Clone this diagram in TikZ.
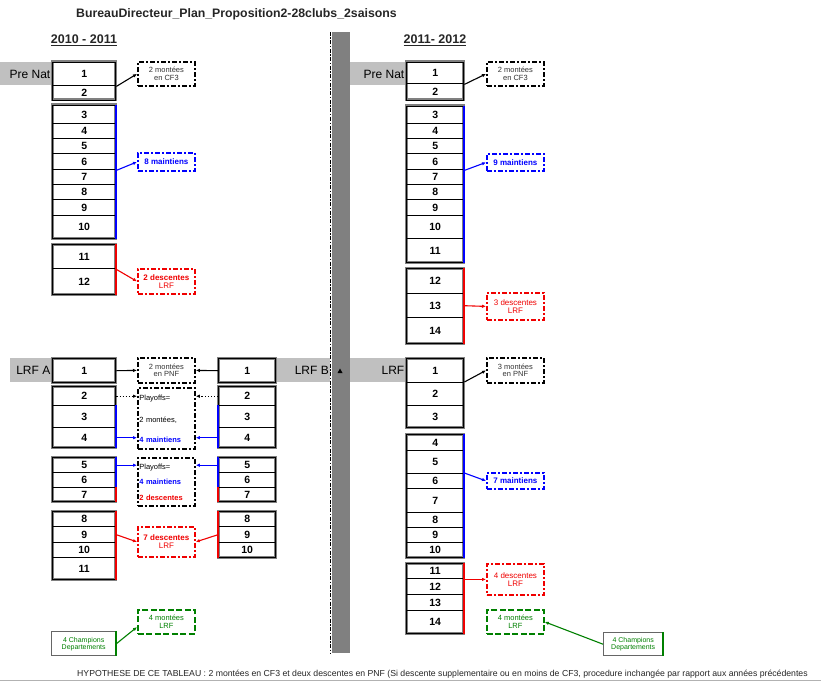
\documentclass[tikz,border=0pt]{standalone}
\usepackage{fontspec}
\setmainfont{Liberation Sans}
\usetikzlibrary{arrows.meta,calc}
\definecolor{bandgray}{HTML}{C0C0C0}
\definecolor{bargray}{HTML}{808080}
\definecolor{myblue}{HTML}{0000FF}
\definecolor{myred}{HTML}{F00000}
\definecolor{mygreen}{HTML}{008000}
\newcommand\myfs[1]{\fontsize{#1}{#1}\selectfont}
\newcommand\tbl[4]{\foreach \rn/\rt/\rb in {#4} {\node[cell, minimum width=#3pt, minimum height={(\rb-\rt)*1pt}] (#1\rn) at (#2,\rt) {\rn};}}
\begin{document}
\begin{tikzpicture}[x=1pt,y=-1pt,
  cell/.style={draw=black, line width=1.4pt, anchor=north west, inner sep=0pt, font=\bfseries\myfs{10.5}},
  grp/.style={draw=black!50, line width=3pt},
  bedge/.style={draw=myblue, line width=2pt},
  redge/.style={draw=myred, line width=2pt},
  gedge/.style={draw=mygreen, line width=2pt},
  lbl/.style={line width=1.8pt, dash pattern=on 5pt off 2pt on 2pt off 2pt, anchor=north west, minimum width=57pt, inner sep=1pt, align=center},
  glbl/.style={lbl, draw=mygreen, dash pattern=on 6pt off 2.5pt, text=mygreen, font=\myfs{7.5}},
  conn/.style={line width=1.1pt, -{Latex[length=4pt,width=3.5pt]}},
  band/.style={fill=bandgray},
  bandtxt/.style={anchor=east, font=\myfs{12}, inner sep=0pt},
  champ/.style={draw=black!60, line width=1.4pt, anchor=north west, inner sep=1pt, align=center, text=mygreen, font=\myfs{7}}
]
\useasboundingbox (0,0) rectangle (821,682);
\fill[white] (0,0) rectangle (821,682);

% title and headers
\node[anchor=west, inner sep=0pt, font=\bfseries\myfs{12.3}, text=black!85] (title) at (76,14) {BureauDirecteur\_Plan\_Proposition2-28clubs\_2saisons};
\node[font=\bfseries\myfs{12.5}, text=black!85] (hA) at (84,40) {\underline{2010 - 2011}};
\node[font=\bfseries\myfs{12.5}, text=black!85] (hB) at (435,40) {\underline{2011- 2012}};

% central bar
\fill[bargray] (332,32) rectangle (350,653);
\draw[line width=1.3pt, dash pattern=on 4pt off 1.5pt on 1.5pt off 1.5pt] (330.5,32) -- (330.5,653);

% bands
\fill[band] (0,62) rectangle (52,85);
\node[bandtxt] (tPNA) at (50.5,74) {Pre Nat};
\fill[band] (10,358) rectangle (52,382);
\node[bandtxt] (tLA) at (50.5,370) {LRF A};
\fill[band] (275,358) rectangle (330,382);
\node[bandtxt] (tLB) at (329,370) {LRF B};
\fill[band] (350,358) rectangle (406,382);
\node[bandtxt] (tLR) at (404.5,370) {LRF};
\fill[band] (350,62) rectangle (406,85);
\node[bandtxt] (tPNB) at (404.5,74) {Pre Nat};
\fill[black] (337.5,373) -- (342.5,373) -- (340,368.5) -- cycle;

% group backgrounds (gray outer frame)
\draw[grp] (52,62) rectangle (115,100);
\draw[grp] (52,105) rectangle (115,238);
\draw[grp] (52,244) rectangle (115,294);
\draw[grp] (52,358) rectangle (115,382);
\draw[grp] (52,386) rectangle (115,447);
\draw[grp] (52,457) rectangle (115,501);
\draw[grp] (52,511) rectangle (115,579);
\draw[grp] (218,358) rectangle (275,382);
\draw[grp] (218,386) rectangle (275,447);
\draw[grp] (218,457) rectangle (275,501);
\draw[grp] (218,511) rectangle (275,557);
\draw[grp] (406,62) rectangle (463,100);
\draw[grp] (406,106) rectangle (463,262);
\draw[grp] (406,268) rectangle (463,343);
\draw[grp] (406,358) rectangle (463,427);
\draw[grp] (406,434) rectangle (463,557);
\draw[grp] (406,563) rectangle (463,633);

% tables
\tbl{pA}{52}{63}{1/62/85, 2/85/100, 3/105/123, 4/123/138, 5/138/153, 6/153/169, 7/169/184, 8/184/199, 9/199/215, 10/215/238, 11/244/268, 12/268/294}
\tbl{a}{52}{63}{1/358/382, 2/386/405, 3/405/427, 4/427/447, 5/457/472, 6/472/487, 7/487/501, 8/511/526, 9/526/542, 10/542/557, 11/557/579}
\tbl{b}{218}{57}{1/358/382, 2/386/405, 3/405/427, 4/427/447, 5/457/472, 6/472/487, 7/487/501, 8/511/526, 9/526/542, 10/542/557}
\tbl{pB}{406}{57}{1/62/83, 2/83/100, 3/106/123, 4/123/138, 5/138/153, 6/153/169, 7/169/184, 8/184/199, 9/199/215, 10/215/238, 11/238/262, 12/268/293, 13/293/317, 14/317/343}
\tbl{r}{406}{57}{1/358/382, 2/382/405, 3/405/427, 4/434/450, 5/450/473, 6/473/488, 7/488/512, 8/512/527, 9/527/542, 10/542/557, 11/563/578, 12/578/594, 13/594/610, 14/610/633}

% coloured edges
\draw[bedge] (pA3.north east) -- (pA10.south east);
\draw[redge] (pA11.north east) -- (pA12.south east);
\draw[bedge] (a3.north east) -- (a4.south east);
\draw[bedge] (a5.north east) -- (a6.south east);
\draw[redge] (a7.north east) -- (a7.south east);
\draw[redge] (a8.north east) -- (a11.south east);
\draw[bedge] (b3.north west) -- (b4.south west);
\draw[bedge] (b5.north west) -- (b6.south west);
\draw[redge] (b7.north west) -- (b7.south west);
\draw[redge] (b8.north west) -- (b10.south west);
\draw[bedge] (pB3.north east) -- (pB11.south east);
\draw[redge] (pB12.north east) -- (pB14.south east);
\draw[bedge] (r4.north east) -- (r10.south east);
\draw[redge] (r11.north east) -- (r14.south east);

% label boxes, left season
\node[lbl, draw=black, minimum height=24pt, font=\myfs{7.5}, text=black!80] (cf3A) at (137,61) {2 montées\\en CF3};
\node[lbl, draw=myblue, minimum height=18pt, font=\bfseries\myfs{8}, text=myblue] (mA8) at (137,152) {8 maintiens};
\node[lbl, draw=myred, minimum height=25pt, font=\bfseries\myfs{8}, text=myred] (dA2) at (137,268) {2 descentes\\\mdseries LRF};
\node[lbl, draw=black, minimum height=25pt, font=\myfs{7.5}, text=black!80] (pnfA) at (137,357) {2 montées\\en PNF};
\node[lbl, draw=black, minimum height=61pt, text width=54pt, align=left, font=\myfs{7.5}] (po1) at (137,387) {Playoffs=\\[15pt]2 montées,\\[12pt]\textcolor{myblue}{\bfseries 4 maintiens}};
\node[lbl, draw=black, minimum height=48pt, text width=54pt, align=left, font=\myfs{7.5}] (po2) at (137,457) {Playoffs=\\[8pt]\textcolor{myblue}{\bfseries 4 maintiens}\\[8pt]\textcolor{myred}{\bfseries 2 descentes}};
\node[lbl, draw=myred, minimum height=30pt, font=\bfseries\myfs{8}, text=myred] (dA7) at (137,526) {7 descentes\\\mdseries LRF};
\node[glbl, minimum height=24pt] (mon4A) at (137,609) {4 montées\\LRF};
\node[champ, minimum width=64pt, minimum height=24pt] (champA) at (51,631) {4 Champions\\Departements};
\draw[gedge] (champA.north east) -- (champA.south east);

% label boxes, right season
\node[lbl, draw=black, minimum height=24pt, font=\myfs{7.5}, text=black!80] (cf3B) at (486,61) {2 montées\\en CF3};
\node[lbl, draw=myblue, minimum height=17pt, font=\bfseries\myfs{8}, text=myblue] (mB9) at (486,153) {9 maintiens};
\node[lbl, draw=myred, minimum height=27pt, font=\myfs{8}, text=myred] (dB3) at (486,292) {3 descentes\\LRF};
\node[lbl, draw=black, minimum height=25pt, font=\myfs{7.5}, text=black!80] (pnfB) at (486,357) {3 montées\\en PNF};
\node[lbl, draw=myblue, minimum height=16pt, font=\bfseries\myfs{8}, text=myblue] (mB7) at (486,472) {7 maintiens};
\node[lbl, draw=myred, minimum height=31pt, font=\myfs{8}, text=myred] (dB4) at (486,563) {4 descentes\\LRF};
\node[glbl, minimum height=24pt] (mon4B) at (486,609) {4 montées\\LRF};
\node[champ, minimum width=59pt, minimum height=23pt] (champB) at (603,632) {4 Champions\\Departements};
\draw[gedge] (champB.north east) -- (champB.south east);

% connectors, left season
\draw[conn] (pA1.south east) -- (cf3A.west);
\draw[conn, myblue] (pA6.south east) -- (mA8.west);
\draw[conn, myred] (pA11.south east) -- (dA2.west);
\draw[conn] (a1.east) -- (pnfA.west);
\draw[conn] (b1.west) -- (pnfA.east);
\draw[conn, dotted] (a2.east) -- (a2.east -| po1.west);
\draw[conn, dotted] (b2.west) -- (b2.west -| po1.east);
\draw[conn, myblue] (a4.east) -- (a4.east -| po1.west);
\draw[conn, myblue] (b4.west) -- (b4.west -| po1.east);
\draw[conn, myblue] (a5.east) -- (a5.east -| po2.west);
\draw[conn, myblue] (b5.west) -- (b5.west -| po2.east);
\draw[conn, myred] (a9.east) -- (dA7.west);
\draw[conn, myred] (b9.west) -- (dA7.east);
\draw[conn, mygreen] (champA.east) -- ($(mon4A.south west)!0.3!(mon4A.north west)$);

% connectors, right season
\draw[conn] (pB1.south east) -- (cf3B.west);
\draw[conn, myblue] (pB6.south east) -- (mB9.west);
\draw[conn, myred] (pB13.east) -- (dB3.west);
\draw[conn] (r2.north east) -- (pnfB.west);
\draw[conn, myblue] (r6.north east) -- (mB7.west);
\draw[conn, myred] (r11.south east) -- (dB4.west);
\draw[conn, mygreen] (champB.west) -- (mon4B.east);

% footer
\node[anchor=base west, inner sep=0pt, font=\myfs{8.7}, text=black!85] (foot) at (77,676) {HYPOTHESE DE CE TABLEAU : 2 montées en CF3 et deux descentes en PNF (Si descente supplementaire ou en moins de CF3, procedure inchangée par rapport aux années précédentes};
\draw[black!30, line width=0.6pt] (0,680.5) -- (821,680.5);
\end{tikzpicture}
\end{document}
